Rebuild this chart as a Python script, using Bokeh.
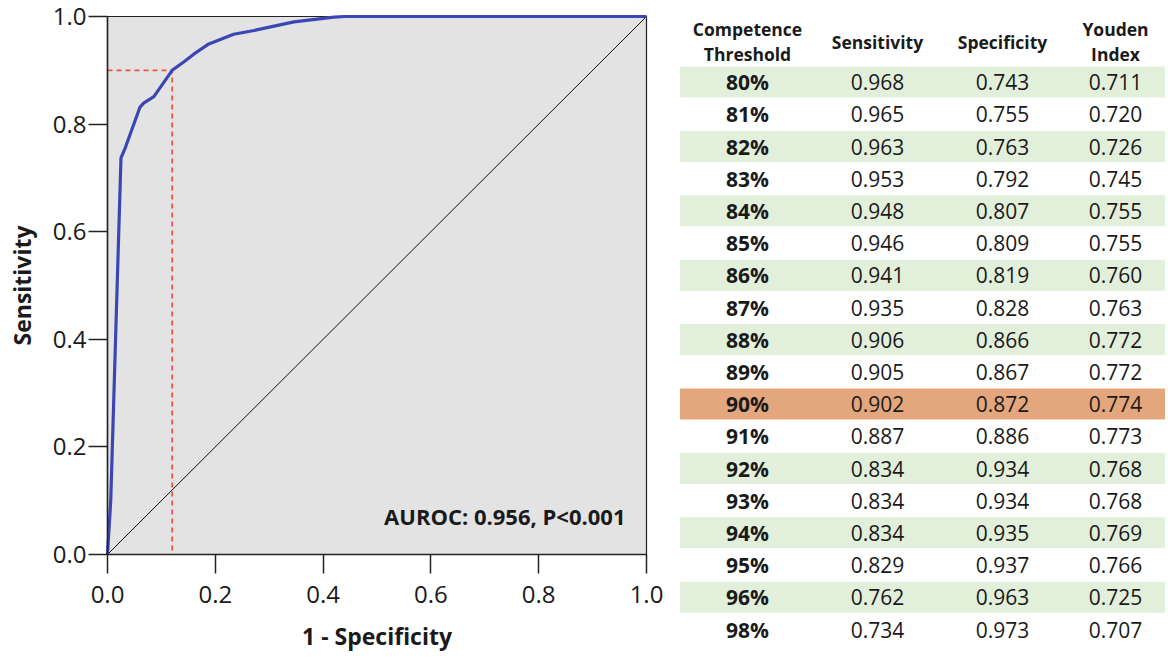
from bokeh.plotting import figure
from bokeh.models import Range1d, FixedTicker, ColumnDataSource, Label, CustomJSTickFormatter
from bokeh.core.properties import value
from bokeh.embed import file_html
from bokeh.resources import INLINE

# ---------------- data ----------------
roc_fpr = [0.0, 0.006, 0.025, 0.033, 0.060, 0.067, 0.086, 0.120, 0.142, 0.160, 0.188, 0.234, 0.272, 0.346, 0.420, 0.440, 1.0]
roc_tpr = [0.0, 0.100, 0.737, 0.756, 0.831, 0.839, 0.851, 0.900, 0.916, 0.930, 0.949, 0.967, 0.974, 0.990, 0.999, 1.000, 1.0]

cut_fpr = 0.12
cut_tpr = 0.90

ticks = [0.0, 0.2, 0.4, 0.6, 0.8, 1.0]

thresholds = ["80%", "81%", "82%", "83%", "84%", "85%", "86%", "87%", "88%",
              "89%", "90%", "91%", "92%", "93%", "94%", "95%", "96%", "98%"]
sensitivity = [0.968, 0.965, 0.963, 0.953, 0.948, 0.946, 0.941, 0.935, 0.906,
               0.905, 0.902, 0.887, 0.834, 0.834, 0.834, 0.829, 0.762, 0.734]
specificity = [0.743, 0.755, 0.763, 0.792, 0.807, 0.809, 0.819, 0.828, 0.866,
               0.867, 0.872, 0.886, 0.934, 0.934, 0.935, 0.937, 0.963, 0.973]
youden = [0.711, 0.720, 0.726, 0.745, 0.755, 0.755, 0.760, 0.763, 0.772,
          0.772, 0.774, 0.773, 0.768, 0.768, 0.769, 0.766, 0.725, 0.707]
header_lines = ["Competence", "Threshold", "Sensitivity", "Specificity", "Youden", "Index"]
highlight = "90%"

FONT = "Open Sans"
TXT = "#1a1a1a"

# ---------------- layout geometry (canvas pixels) ----------------
W, H = 1166, 659
PX0, PX1 = 107, 646     # canvas x of data 0 and 1
PY0, PY1 = 554, 16      # canvas y of data 0 and 1


def dx(px):
    return (px - PX0) / (PX1 - PX0)


def dy(py):
    return (PY0 - py) / (PY0 - PY1)


p = figure(width=W, height=H, output_backend="svg", toolbar_location=None,
           x_range=Range1d(dx(0), dx(W)), y_range=Range1d(dy(H), dy(0)),
           min_border=0)
p.background_fill_color = "white"
p.border_fill_color = "white"
p.outline_line_color = None
p.xgrid.visible = False
p.ygrid.visible = False

for ax in (p.xaxis[0], p.yaxis[0]):
    ax.fixed_location = 0
    ax.bounds = (0, 1)
    ax.ticker = FixedTicker(ticks=ticks)
    ax.formatter = CustomJSTickFormatter(code="return tick.toFixed(1);")
    ax.minor_tick_line_color = None
    ax.major_tick_out = 19
    ax.major_tick_in = 0
    ax.major_tick_line_color = "#222222"
    ax.major_tick_line_width = 1.5
    ax.axis_line_color = "#222222"
    ax.axis_line_width = 1.5
    ax.major_label_text_font = FONT
    ax.major_label_text_font_size = "24px"
    ax.major_label_text_color = TXT
    ax.axis_label_text_font = FONT
    ax.axis_label_text_font_style = "bold"
    ax.axis_label_text_font_size = "23px"
    ax.axis_label_text_color = TXT

p.xaxis.axis_label = "1 - Specificity"
p.yaxis.axis_label = "Sensitivity"
p.xaxis.major_label_standoff = 12
p.yaxis.major_label_standoff = 2
p.xaxis.axis_label_standoff = 14
p.yaxis.axis_label_standoff = 12

# plot area
p.quad(left=0, right=1, bottom=0, top=1, fill_color="#e3e3e3", line_color="#222222",
       line_width=1.2)
# reference diagonal
p.line(x=[0, 1], y=[0, 1], line_color="#111111", line_width=1)
# cutoff dashed lines
p.line(x=[0, cut_fpr, cut_fpr], y=[cut_tpr, cut_tpr, 0], line_color="#e8583f",
       line_width=1.8, line_dash="5 4")
# ROC curve
p.line(x=roc_fpr, y=roc_tpr, line_color="#3b46b5", line_width=3.2)

p.add_layout(Label(x=dx(625), y=dy(515), text="AUROC: 0.956, P<0.001", text_align="right",
                   text_baseline="middle", text_font=FONT, text_font_style="bold",
                   text_font_size="22px", text_color=TXT))

# ---------------- table ----------------
ROW_TOP0 = 65.5
ROW_H = 32.2
col_px = {"thr": 747, "sens": 877, "spec": 1002, "you": 1115}

n = len(thresholds)
tops = [dy(ROW_TOP0 + ROW_H * i) for i in range(n)]
bots = [dy(ROW_TOP0 + ROW_H * (i + 1)) for i in range(n)]
mids = [dy(ROW_TOP0 + ROW_H * (i + 0.5)) for i in range(n)]
fills = []
for i, th in enumerate(thresholds):
    if th == highlight:
        fills.append("#e4a67c")
    elif i % 2 == 0:
        fills.append("#e2efda")
    else:
        fills.append("white")

p.quad(left=dx(679), right=dx(1165), top=tops, bottom=bots, fill_color=fills,
       line_color="white", line_width=1)

src = ColumnDataSource(dict(
    y=mids,
    thr=thresholds,
    sens=[f"{v:.3f}" for v in sensitivity],
    spec=[f"{v:.3f}" for v in specificity],
    you=[f"{v:.3f}" for v in youden],
))
common = dict(source=src, text_align="center", text_baseline="middle",
              text_font=value(FONT), text_font_size="21px", text_color=TXT)
p.text(x=dx(col_px["thr"]), y="y", text="thr", text_font_style="bold", **common)
p.text(x=dx(col_px["sens"]), y="y", text="sens", **common)
p.text(x=dx(col_px["spec"]), y="y", text="spec", **common)
p.text(x=dx(col_px["you"]), y="y", text="you", **common)

hdr = dict(text_align="center", text_baseline="middle", text_font=value(FONT),
           text_font_style="bold", text_font_size="17.5px", text_color=TXT)
p.text(x=[dx(col_px[k]) for k in ["thr", "thr", "sens", "spec", "you", "you"]],
       y=[dy(v) for v in [28, 53, 41, 41, 28, 53]],
       text=header_lines, **hdr)

open("out.html", "w").write(file_html(p, INLINE))
